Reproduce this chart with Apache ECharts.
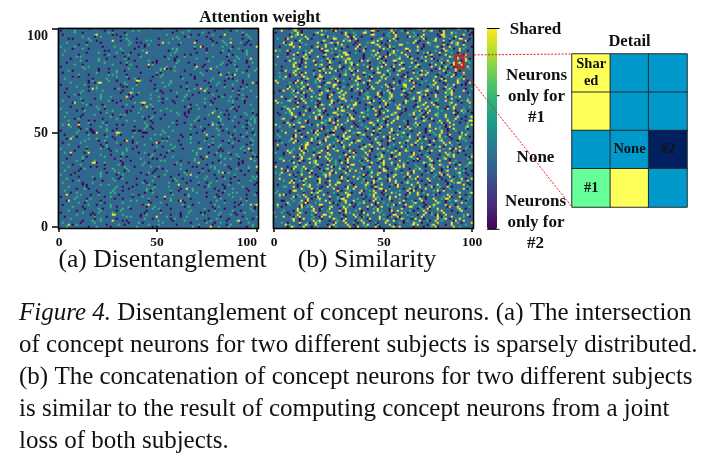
<!DOCTYPE html>
<html><head><meta charset="utf-8">
<style>html,body{margin:0;padding:0;background:#fff}#c{width:722px;height:466px}</style>
<script src="https://cdn.jsdelivr.net/npm/echarts@6/dist/echarts.min.js"></script></head>
<body><div id="c"></div>
<script>
// Cell rows are a hand-typed approximation of the reference, top row first.
// Each token is <cells of None to skip><kind>: o=#2, g=#1, y=Shared.
const tickLabels=['0','50','100'];
const xTickIdxA=[0,49,99], yTickIdxA=[0,47,99], xTickIdxB=[0,55,99];
const leftRows=[
"3g11o2g17o9g4o21g6o1o8g13o",
"1o6g14o3o9g2g18o5g12o7o2g10g",
"8g3o12g1g5o23o4g9g2o16g7o",
"2o15g8o1o4g19g11o3o6g14o",
"12g5o2g9o27g3o1g8o6o13g",
"5o1o7g18g4o10o6g2g15o9g5o",
"16g2o11o3g8g1g22o7o4g12o",
"4g9o6o14g2o1o13g5g17o3g",
"10o3g20g7o1g4o9o16g6g8o",
"1g6g13o5g11o2o24g3o9g4o",
"7o4g2o15g6o18g1g8o5o11g",
"3g19o1o6g9g12o3g14o7g2o",
"14o5g8g2o3o21g10o4g6o12g",
"2g7o12o1g9g4o15g6o2o18g",
"9g1g16o4o7g11o5o3g13g6o",
"6o13g3o8g1o19g2o10g4o15g",
"11g2o5g17o6g3o8o1g14g9o",
"4o18g7o2g12o1o9g5o16g3o",
"8g3o14g6o1g10g20o4o7g2o",
"1o10g2g23o5o8g3g13o6g9o",
"13g6o4o9g15g2o1o11g7o12g",
"5g1o12o8g3o17g6g4o10o14g",
"2o16g5o3g11o7g1o19g8o4g",
"10g4o9g1g6o14o2g13o5g11o",
"7o2o18g4g12o3g9o6o15g1g",
"3g13o6g10o2g1o21g5o8g7o",
"15o1g7g3o11g4o9g16o2g6o",
"6g8o2o14g5o12g3g7o10o4g",
"1o11g17o2g4g8o6g13o9g3o",
"9g5o3g12o1o18g7o2g11o6g",
"4o14g8o1g6g10o15o3g5g12o",
"12g2o6g9o16g1o4o8g13o7g",
"3o7g19o5g2g11o6g10o4o14g",
"8g1o10g13o3o6g17g2o9g5o",
"5o15g4g7o2o12g8o3g16o1g",
"11g6o2g14o9g5o1g10o7g4o",
"2g9o12g1o3o18g6o4g13o8g",
"7o4g16o8g2g10o5o14g3o9g",
"14g1o5o11g7o3g19o2g6g10o",
"6o12g3g8o4o9g15o1g7o13g",
"1g10o7g2o17g5o6g11o3g8o",
"9o3g13g6o1o14g4g8o12g5o",
"4g16o2g9o5g7o10g3o1o15g",
"12o5g8o3g1g19o6g2o11g7o",
"3g7o14g4o10g2o1g16o5g9o",
"8o1g11o6g13o2g4o17g3o7g",
"5g9o2o15g3g7o12o8g1o10g",
"10o4g6g1o18g3o9g5o13g2o",
"2g13o7g4o2o11g14o6g8o3g",
"6g3o10g16o5g1o8g12o2g9o",
"11o2g1o7g4o13g3o18g6o5g",
"1o8g5o0o6g2o9o0o1o0o10g4g14o7g",
"9g4o2o0o12g6g3o0o0o8g15o3g11o",
"3o11g7o5g1o16g2g9o4o13g6o",
"7g1o14g2o9g4o12g6o3g10o8g",
"4o10g3g8o17g5o1o11g7o2g",
"13g6o2g9o3o14g1g5o12g8o",
"2o8g12o4g7o1g10o15g3o6g",
"5g15o2g6o11g3o8g4o13g1o",
"10o3g7o1g14o9g2o5g16o4g",
"1g12o6g3o8g2o19g4o7g10o",
"8o5g11o2g4g13o6g1o9g12o",
"3g9o1o16g7o2g10o14g5o3g",
"6o14g4o5g12o1g3o17g8o2g",
"12g1o8g7o2o11g6o3g13o9g",
"4o7g15o2g9g5o1o18g3o10g",
"9g2o5g12o4o14g1g7o6g11o",
"2g16o3g8o10g1o13g5o4g6o",
"7o3g11o6g1o9g15o2g12o8g",
"5g10o2o13g4o7g3g16o1o6g",
"11o1g9o3g6g14o2o8g10o5g",
"3g6o17g4o1g12o5g9o7g2o",
"8o12g2o5g10o3g1o15g6o9g",
"1g4o14g7o2g11o8g6o3g13o",
"10o6g3g9o16g1o5o12g4g7o",
"4g13o8g2o1g6o18g3o10g5o",
"7o2g11o5g14o3g9o1g6o12g",
"2g9o4g16o7g1o10g8o5g3o",
"12o1o6g3g13o5g2o11g9o4g",
"5g8o14g2o4o10g6g17o1g7o",
"9o3g1o12g6o8g2g13o5g10o",
"3g15o7g4o11g1o9g3o6g12o",
"6o2g10o5g1g14o3g8o12g4o",
"11g4o3g9o6g2o16g5o1g13o",
"1o7g13o2g10o4g6o15g8o3g",
"8g5o1g11o3o12g7o2g9o14g",
"4o9g6o14g2g5o10g3o1o16g",
"10g2o7g1o8g13o4g11o6g5o",
"2o12g3o6g15o1g9o7g4o10g",
"7g4o13g2o5g8o3g14o1g11o",
"13o6g1o9g3o10g2g5o16g4o",
"5g3o11g7o1g12o6o14g8o2g",
"1o10g4o2g6g15o7g9o3g5o",
"9g6o1o13g8o2g11o4o10g7g",
"3o14g5o9g1g4o12g6o2g16o",
"6g11o2g7o13g3o8o1g10g5o",
"12o4g3g10o1o15g6o5g9o2g",
"2g8o6g16o4g1o9g13o7g3o",
"7o1g14o5g2o11g4g8o10g6o",
"4g10o3g6o12g7o1o17g2o9g"];
const leftTail=[
"4o9g3o12g","2g7o5g1o8g","6o3g11o2g9o","1g5o14g3o6g","9o2g6o1g13o","3g8o4g10o2g","5o12g1o7g","7g2o9o4g6o","2o4g13g3o8g","11g1o5o6g2o",
"3g9o2g7o4g","6o1g12o3g5o","8g4o2g10o1g","1o6g9o5g3o","4g13o2o7g6g","10o3g1g8o5g","2g5o11o4g9o","7o2g6g3o12g","3g14o1o5g7o","5o8g2g10o4g",
"9g1o6o4g11o","4o3g12g2o7g","6g10o1g5o8g","2o7g4o13g3o","8g5o2g9o1g","1o12g3o6g4o","5g2o10g7o3g","11o4g1o8g6g","3g6o9g2o5o","7o2g13o1g4g",
"4g8o3g6o11g","2o5g10o1o7g","9g3o6g4o8g","6o1g11g5o2g","3g7o4g12o1g","10o2g8o3g6o","1g5o9g4o7g","5o13g2g6o3g","8g4o1o10g5o","2o9g3o7g4g",
"6g1o12o2g8o","4o7g5g9o1g","11g3o6o2g10o","1o8g4o13g3o","7g2o5g9o4g","3o10g1g6o8g","5g6o3g11o2o","9o4g2g7o5g","2g11o1g5o9g","6o3g8g4o10o",
"4g9o2g6o7g","1o5g12o3g8o","8g2o7g1o11g","3o6g10o4g5o","5g1o13g2o6g","10o7g3g9o1g","2g4o6g11o5o","7o1g8o3g10g","3g12o2g5o4g","6o4g9g1o7o",
"9g3o5o11g2g","1o10g2o6g4o","5g7o3g13o1g","4o2g8g5o9o","8g6o1o12g3o","2g3o10g6o7g","11o5g2g4o9g","3g8o1o7g5o","6o12g3g2o10g","1g6o9g4o3g",
"7o2g5g11o4o","4g10o3o6g8g","2o1g13o7g5o","9g4o6g2o12g","5o8g1g3o10o","3g2o11g6o4g","10o5g4o7g1o","1g9o3g8o6g","6o2g12o5g3o","8g7o1g4o9g",
"4o3g6o10g2o","2g11o5o7g4g","7o4g1g9o6o","5g8o3g2o13g","1o6g12o4g7o","9g2o5g3o11g","3o10g7o1g6g","6g4o2o9g8o","11o1g5g6o3g","2g7o9o4g5o",
"4o12g1o8g6g","8g3o5g10o2o","1o7g6o4g12g","5g2o13g3o7o","10o6g1g9o4g","3g5o8g2o11g","7o4g12o1g6o","2g9o3g7o5g","6o1g10g4o8o","4g8o2g5o13g"];
const rightLead=[
"","4y","1o7g","","9y","2g","11o1y","5y","","3o6y","13g","1y","7o","","2y4g","10y","6o","","1g8y","4o",
"12y","","3g","8o2y","","5g","1y9o","2y","14g","","7y","3o1y","","10g","4y","6o2g","1y","","12o","5g",
"","8y","2o3g","","11y","4g","9o","","1y6y","3g","15o","","6y","2g7o","","9y","1o","4g5y","","13g",
"2o","7y1g","","5o","10y","3g","","1o8y","12g","","4y","6o","1g2y","","11o","3y7g","","8y","2o","5g",
"14y","","1g6o","3y","","9g","4o","7y","","2g1o","12y","5g","","8o3y","1g","","10y","4g2o","6y",""];
const rightRows=[
"0y7o1y0y4g12y2o0y3g1y9o2y5g0y1y6o3g0y2y8o1g4y0y3o2g11y1o0y5g2y7o1y3g",
"5g0y2o9y1g3o0y14g2y0y1o6y4g1o8y2g0y3o1y10g0o2y5y1g0o7y3g2y1o4g0y9o",
"2y1o6g0y11o1y3g4y0y2o8g1y0o5y2g13o0y3y1g7o2y0y4g1o6y2o0y3g12y1o",
"8o2g0y1y5o3y0g10y1o2g7y0y4o1g3y9g0o2y6o1y0y3g5y2o11g0y1o4y2g",
"1g4y9o0y2g6y1o0y3o13g2y5o0y1g3y8o1y0g4y2o7g0y1y3o5g2y10o0y",
"3o0y6g2y1o10y0y4g2o1y7o3g0y5y1o9g2y0o4y6g1o2y0y3o8g1y4o2y",
"11y0g2o5y1g0y3o7g1y4o0y2g9y1o6g0y3y2o1g5y0o8g2y3o0y4g1y7o",
"0o2y4g7y1o3g0y2y8o5g1y0y3o12g2y1o4y0g6o3y1g0y2o9y4g1o",
"6g1y0y3o2g9y4o0g1y5o2y7g0y3o1g4y0y10o2g6y1o3g0y2y5o1g",
"2y5o1g0y3y8g1o4y0o2g6y3o0y1g11y2o5g0y1o3y7g2o0y4y1g6o",
"9o0y4g1y2o6y3g0o8y1g2o5y0y4g1o10y3g0o2y1g6y4o0y2g3y",
"1g3y0o7g2y4o1y0y5g9o1y3g0y2o6y1g4o0y3y8g2o1y0g5y3o",
"4y2o0g1y6o3g5y0y1o2g10y4o1g0y3y7o2g1y0o4y5g2o9y0g",
"0g6o2y1o3y8g0y4o1g2y0y7o3g1y5o0y2g4y9o1g0y3o2y6g1o",
"7y1g0o3y2o5g0y1y10o4g2y1o0y6g3y0o5g1y2o8y0g3o1y4g",
"3o1y0g9y2o4g1y0y6o2g3y1o7g0y5y2o1g4y0o3g11y1o2g0y",
"1y4g0o5y3g2o0y7y1g4o0y2y6g1o3y0y9g2o1y5o0g3y4g1o",
"10g0y2o1y4o6y0g3o2y1g0y8o4g1y5o2y0g3y1o7g4y0o2g1y",
"2o7y1g0y3o4g5y0o1y2g9o0y3g2y1o6y0g4o2y5g1o0y3y8o",
"5y0g1o2y6g3o0y4y1o2g8y0o3g1y4o0y7g2y1o5y3g0o1y2g",
"0g9o1y2g0y4o3y1g7o0y2y5g1o3y0y4g10o1y2g0o3y6g1o",
"4o1y3g0y8o2y1g5y0o3g2y1o0y9g4y2o1g0y6o3y1g2o5y",
"6y2g0o1y3g4o0y1y7g2o5y0g3o1y0y4g8o2y1g0o3y5g2o",
"1o0y5g2y9o1g0y3y4o2g6y1o0g3y2o7g0y1y5o4g2y0o3g",
"3g2y1o6y0g4o1y0y5g2o8y3g1o0y4y2g6o1y0o3g9y2o1g",
"8o1g0y4y2o3g1y6o0g2y0y5o4g1y3o7g0y2y1o5g3y0o6g",
"0y3o4g1y7o0y2g5y1o3g0y4y9o2g1y0o6g3y2o1g0y5y4o",
"5g1o0y2y6g3o1y0y4o8g2y1o3g0y7y2o1g4y0o2g6y3o",
"2y6o1g3y0y5o2g1y4o0g7y1o3g2y0y6o4g1y5o0g2y3o",
"7o0y3g2y1o4g0y6y2o1g3y8o0y4g2y1o5g0y3y6o1g2y",
"1g4y2o0y7g1o3y5g0o2y4o1g0y9y3o2g1y0o6g4y2o1g",
"4y0o5g1y3o2g0y6y4o1g2y0o7g3y1o5y0g2o4g1y0y3o",
"0o8g2y1o0y4g3y5o1g0y2y6o3g4y1o0g2y7o1g3y0y5o",
"3g1o6y0g2o1y4g0y7o2g5y1o3g0y4y2o6g1y0o3y5g",
"6y3g0o2y1g5o0y4y1g3o7y0g2o1y4g0y6o3g2y1o5y",
"1o2y7g0y3o1g4y0y6o2g1y5o0g3y8o1g0y2y4o3g6y",
"5g0y4o1y3g2o6y0g1o3y2g9o0y4y1g2o5y0g3o1y7g",
"2y1g6o0y3y4g1o5y0o2g7y1o3g0y4o2y1g6o0y5g3y",
"9o1y0g2y5o3g1y0y4o2g6y0o3g1y7o2g0y4y1o5g2y",
"0g5y2o1g3y0o6g4y1o0y2g8o3y1g0o5y2g4o1y0g3y",
"4o2y0g1y7o3g2y5o0y1g4y6o0g2y3o1g5y0y2o7g",
"7y1o3g0y2o5g1y0y4o6g3y1o0g2y8o4g1y0o3y5g",
"1g0y3o6y2g1o4y0y5g3o2y0g7o1y4g0y2o5y3g1o",
"3o5y0g2o1y6g0y3o4y1g2o0y8g3y1o5y0g2o4g1y",
"6g2y1o0y4g3o5y0o2g1y6o3g0y4y7o1g2y0o5g3y",
"0y4o2g7y1o0g3y2o5g1y0y6o4g2y1o3g0y8y2o1g",
"2g3y0o8g1y2o0y4y5g1o6y3o0g2y4g1o7y0g3o2y",
"5o1y4g0y3o6y0g2o1y5g3o7y0y4g1o2y6g0o3y1g",
"1y7g0o2y3g4o0y1y6o2g5y1o0g3y9o2g1y0o4y6g",
"4g1o3y0y6g2o5y1g0o4y2o3g7y0o1g5y2o0y3g6y",
"8y0o3g1y2o0o6g4y2o1g0y5y3o2g1y0g6o4y1g3o",
"2o1g6y0o0o5g0o1y0o3g2y4o1g0y7o3y1g0o5y2g6o",
"6g3y2o0y1g4o0o0o5y3g1y0y6o2g4y1o3g0y7y2o1g",
"0y2o5g1y3o2g0y4y6o1g0y3y2o7g1y4o0g3y5o2g1y",
"3g6o0y2y1o4g5y0g3o2y1g0y8o4g2y1o0y5g3y6o",
"9y1g0o3y4g2o1y0y6g3o2y5o0g1y7g3o0y2y4o1g",
"1o4g2y0o6y3g1o0y5y2g4o1y0y7g2o3y1o5g0y4y",
"5g0y1o3y6g2o0y4y1g7o2y0g3o5y1g0o4y2g3o6y",
"2y3o7g1y0y4o1g3y5o0g2y6o1g0y4y3o2g8y1o0g",
"0o1y5g4y2o0g3y7o1g0y2y4o3g5y1o0g6y2o3g1y",
"7g2y0o1y3g5o0y2y4g1o6y0g3o2y1g0y5o4g7y1o",
"4y1o0g6y2o3g0y5y1o4g2y0o7g3y1o2y0g5o3g1y",
"1g3o2y0g5y4o1g0y3y7o2g1y0o4y6g1o3y0g2y5o",
"6o0y1g4y2o3g0y7y1o2g5y0o3g1y4o2g0y6y3o1g",
"3y5g1o0y2y6g3o0y1y4g5o2y0g3o1y6g0y2o4y7g",
"0g7o1y2g0y3o4y1g6o0y2g5y1o3g0y4y2o8g1y0o",
"5y2g0o3y1o4g0y6y2g1o3y5g0o2y4g1o0y7y3g2o",
"2o4y1g0y5o3g2y1o0y6g4y2o1g0y3y5g1o7y0g3o",
"8g0y1o2y3g5o1y0y4g2o6y3g1o0y2y5g4o1y0g3y",
"1y5o2g0y3y4g1o6y0o2g3y7o1g0y4y2o5g0y1y6g",
"4o0y3g1y6o2g0y5y1o3g4y0o2g6y1o3y0g5o2g1y",
"0y6g2o1y4g0o3y5g1o0y2y7g3o1y0y4g2o5y3g1o",
"7o1g3y0o5g2y1o0y4y6g3o1y2g0y5o4g2y1o0y6g",
"3g4y1o0g2y6o3g0y1y5o2g7y0o1g3y4o2g0y5y6o",
"6y0g2o3y1g4o0y5y2g1o3y6g0o2y4g1o0y3y7g2o",
"2o1y5g0y3o6y1g0o4y2g5o1y0g3y7o2g1y0o4y5g",
"5g3y0o2g1y6o0y4y3g1o2y7g0o3y1g4o0y2y5g6o",
"1y4o0g6y2o1g3y0y5o4g2y1o0y3g6y2o1g0y4y5o",
"9o2y0g1y3g4o0y2y6g1o5y0g3o2y4g1o0y6y3g2o",
"0g3y1o4g0y5o2y1g6o0y3y4g2o1y0g5o3y7g1o0y",
"4y2g0o6y1o3g0y2y5g4o1y0y3g6o2y1g0o4y5g2o",
"2g5o1y0y3g4o2y0g7y1o3g5y0o2g1y4o0y6g3y1o",
"6o3y1g0y4o2g5y0g1o3y6g0y2o4y1g5o0y3y2g7o",
"1y0o5g2y3o0g4y6o1g2y0y5o3g1y4o0g6y2o1g3y",
"3g6y0o1g2y4o0y5y3g1o2y7g0o3y1g4o0y2y5g6o",
"7y1o2g0y4o3g1y0y6g2o5y1g0o3y4g2o6y0g1o3y",
"0o4g3y1o0y5g2y6o1g0y3y4g2o1y7g0o5y3g1o2y",
"5g2y0o3g6y1o0g4y2o3g1y5o0y2g7y1o4g0y3o6y",
"2y3o1g5y0o2g4y0y7o1g3y2o0g6y1o5g2y0o4y3g",
"8o0y2g1y4o3g0y5y1g2o6y3g0o1y4g5o2y0y3g1o",
"1g5y2o0g3y4o1g0y6y3o2g1y5o0g4y7o1g2y0o3y",
"4o1y6g0y2o3g5y1o0y4g2o7y1g3o0y2y5g1o4y6g",
"0y3g2o5y0g1o4y6g0y3o2y1g5o0y4y2g6o3y1g0o",
"6g1o3y0y2g5o4y1g0o3y7g2o1y0y5g4o2y3g1o0y",
"3y4o0g1y6g2o0y3y5g1o4y2o0g7y3o1g2y0o5g4y",
"9g0y2o1y3g4o5y0g2o1y6g3o0y4y1g5o2y0g3o1y",
"2o6y1g0y4o3g2y5o0g1y3o7g0y2y4o1g5y3g0o2y",
"5y3g0o2y1g6o0y4y3g1o2y5g0o3y6g1o4y0g2o7y",
"1g4o2y0g3y5o1g0y6y2o4g1y3o0g5y2o7g0y1y4o",
"7o1y0g4y3o2g5y0o1g6y2o0y3g4y1o5g0y2y6o"];
const rightTail=[
"2y6o0g3y1o8g","0y4g1y7o2y0g5o","3o1y9g0y2o4y","6g0y1o3y5g2o","1y3o7g0y4y2g","4g2y0o6y1g3o","8y1o2g0y5o3y","0g5o2y1g7y3o","3y1g0y6o4g1y","5o2y0g3y8g1o",
"1g7y2o0y4g5o","2o0y5g3y1o6y","9g1y0o2y4g3o","0y3o8g1y2y5g","4y2g1o0y6o3g","6o1y3g0y2o7y","1y0g4o5y2g3o","7g3y1o0y2g8y","2y5o1g4y0o3g","0o6y2g1y3o5g",
"3g4y0o1y8g2o","5y1o7g0y2y4o","1g2o3y6g0y5o","8o0y1g4y2o3g","2y4g0o7y1g5o","0g1y6o2y3g4y","4o3y1g0y9g1o","6y0g2o1y5o3g","1o4g3y0y2o7y","3y2g1o8y0g4o",
"0y7o2g1y3o5g","5g1y0o4y6g2o","2o3y1g0y7o4g","1y8g2o0y3y5g","4y0o3g1y6o2g","7g2y4o0y1g3o","0g3y5o1g2y6o","2y1o6g0y4o3y","9o1g3y0y2g5o","3g0y4o2y7g1o",
"1y5g3o0y2y4g","6o2y1g0o3y8g","0y4g7y1o2g3o","2g1o5y0g3y4o","5y3o1g0y6g2y","1o0y7g3y2o4g","3y2g5o1y0y6g","8g1y0o2y4o3g","0o3y6g1y2o5y","4g2o1y7g0y3o",
"2y5g0o3y1g6o","6o1y0g4y2o3g","1g3y8o0y2g4y","3o0y5g1y6o2y","7y2g1o4y0g3o","0g4o3y1g5y2o","5o1y2g0y7o3g","2y3g6o0y1y4g","4g0y1o5y2g3o","1o7y3g0o2y5g",
"8g2y1o0y4g3y","3y5o0g2y1o6g","0y2g4o7y1g3o","6o3y0g1y5o2g","2g1y7o0y3g4y","4y3o2g0y1o8g","1o5g0y3y4o2g","7y1g2o4y0g5o","0g6o1y3g2y4o","3o2y5g1y0o7g",
"5g0y3o6y1g2o","2y4o1g0y7g3o","1o3y8g0y2o4y","6g2y0o1y5g3o","4y1o2g7y0g3o","0o5g3y1o2y6g","3y7o1g0y4g2y","8o2g1y0y3o5g","1g3y4o0g6y2o","5y0o2g3y1o7g",
"2g6y1o0g4y3o","0y3o5g1y2y6g","7o1y4g0y3o2g","4y2g0o5y1g6o","1o8g2y0o3y4g","3g1y0y6o2g5y","6y4o1g2y0g3o","0g2o7y1g3o4y","5o3y0g4y2g1o","2y1g6o0y3y5g",
"9g0y2o4y1g3o","1y4o3g0y7o2y","4g3y1o0g5y6o","0o2y8g1y3o4g","7y1o0g3y5g2o","3o6y2g0y1o4y","2g5o0y3y7g1o","6y2g1o4y0g3o","1g0y5o2y6g3y","4o3g1y0o7y2g"];
const leftShared=[[19,3],[27,6],[52,7],[44,12],[68,7],[71,9],[86,7],[99,9],[83,3],[96,15],[45,18],[53,20],[76,20],[69,19],[88,23],[20,27],[21,27],[39,26],[40,26],[81,23],[97,27],[17,30],[71,30],[73,31],[36,32],[34,34],[42,37],[43,37],[8,37],[44,39],[77,42],[80,44],[5,48],[77,48],[10,48],[29,52],[30,52],[19,52],[6,55],[49,57],[34,56],[74,53],[95,60],[15,62],[6,62],[71,60],[74,64],[17,67],[18,67],[70,67],[96,65],[99,69],[82,72],[66,73],[60,78],[64,80],[4,83],[5,86],[53,84],[61,86],[45,88],[96,88],[27,93],[28,93],[27,96],[49,94],[5,98],[90,96],[76,99],[99,88]];
const detailRows=[['y','b','b'],['y','b','b'],['b','b','n'],['g','y','b']];
const detailCol=92, detailRow=14;
const detailLabels={'0,3':'Shar\ned','1,1':'None','2,1':'#2','0,0':'#1'};
const captionLines=['{i|Figure 4.} Disentanglement of concept neurons. (a) The intersection','of concept neurons for two different subjects is sparsely distributed.','(b) The concatenation of concept neurons for two different subjects','is similar to the result of computing concept neurons from a joint','loss of both subjects.'];
const viridis=['#440154','#482878','#3e4989','#31688e','#26828e','#1f9e89','#35b779','#6ece58','#b5de2b','#fde725'];
const code={o:0,g:2,y:3};
const detailToCell={y:3,b:1,n:0,g:2};
function matrix(parts,shared){const m=[];for(let r=0;r<100;r++){m.push(new Array(100).fill(1));let c=0;const s=parts.map(p=>p[r]||'').join('');
  for(const t of s.matchAll(/(\d+)([ogy])/g)){c+=+t[1];if(c<100)m[r][c]=code[t[2]];c++;}}
 (shared||[]).forEach(([c,r])=>m[r][c]=3);return m;}
function toCells(m){const d=[];m.forEach((row,r)=>row.forEach((v,c)=>d.push([c,99-r,v])));return d;}
const leftM=matrix([leftRows,leftTail],leftShared),rightM=matrix([rightLead,rightRows,rightTail]);
detailRows.forEach((row,r)=>row.forEach((k,c)=>rightM[detailRow+r][detailCol+c]=detailToCell[k]));
const idx=Array.from({length:100},(_,i)=>String(i));
const serif='"Liberation Serif"';
function ax(idxs,o){const lab=i=>idxs.indexOf(i)>=0;return {type:'category',data:idx,gridIndex:o.g,position:o.pos,
 axisLine:{show:false},splitLine:{show:false},
 axisTick:{show:true,alignWithLabel:true,length:o.len,interval:lab,lineStyle:{color:'#000',width:1.5}},
 axisLabel:Object.assign({show:true,interval:lab,margin:o.margin,color:'#111',fontFamily:serif,fontWeight:'bold',fontSize:o.fs,formatter:(v,i)=>tickLabels[idxs.indexOf(+v)]||''},o.lab||{})};}
const hide=g=>({type:'category',data:idx,gridIndex:g,show:false});
const detailX=['0','1','2'],detailY=['0','1','2','3'];
const dcode={y:0,b:1,n:2,g:3};
const detailData=[];detailRows.forEach((row,r)=>row.forEach((k,c)=>detailData.push([c,3-r,dcode[k],detailLabels[c+','+(3-r)]||''])));
const txt=(t,x,y,fs,extra)=>({type:'text',z:50,x,y,style:Object.assign({text:t,fontFamily:serif,fontSize:fs,fill:'#111',textAlign:'center',textVerticalAlign:'middle'},extra||{})});
const bold=(t,x,y,fs)=>txt(t,x,y,fs,{fontWeight:'bold'});
const G1={left:58,top:28,width:200,height:200},G2={left:273,top:28,width:200,height:200},G3={left:572,top:54,width:115,height:153};
const frame=g=>({type:'rect',z:40,shape:{x:g.left+.5,y:g.top+.5,width:g.width,height:g.height},style:{fill:'none',stroke:'#000',lineWidth:1.5}});
const line=(x1,y1,x2,y2,st)=>({type:'line',z:45,shape:{x1,y1,x2,y2},style:Object.assign({stroke:'#000',lineWidth:1},st)});
const red={stroke:'#f01818',lineWidth:1,lineDash:[2,1.5]};
const graphic=[frame(G1),frame(G2),
 line(487,28.5,499.5,28.5),line(487,229.3,499.5,229.3),line(497,95.7,499.5,95.7),
 {type:'rect',z:46,shape:{x:456.2,y:55.8,width:7.4,height:11.6},style:{fill:'none',stroke:'#e81010',lineWidth:2}},
 line(463.6,55,572,54,red),line(461,67.4,572,207,red),
 bold('Attention weight',260,18,17),bold('Detail',629.5,41.5,16.5),
 bold('Shared',535.5,29.5,17),
 bold('Neurons',536.5,76,17),bold('only for',536.5,97,17),bold('#1',536.5,117.5,17),
 bold('None',535.5,158,17),
 bold('Neurons',535.5,202,17),bold('only for',536,223,17),bold('#2',535.5,243.5,17),
 txt('(a) Disentanglement',162.5,260,25.6),txt('(b) Similarity',367,260,25.6),
 ...captionLines.map((t,i)=>({type:'text',z:50,x:19,y:313.5+i*32,style:{text:t,fontFamily:serif,fontSize:25,fill:'#111',textAlign:'left',textVerticalAlign:'middle',rich:{i:{fontFamily:serif,fontStyle:'italic',fontSize:25,fill:'#111'}}}}))];
const chart=echarts.init(document.getElementById('c'),null,{renderer:'canvas'});
chart.setOption({animation:false,backgroundColor:'#fff',
 grid:[G1,G2,G3],
 xAxis:[ax(xTickIdxA,{g:0,pos:'bottom',len:4,margin:8,fs:13.5,lab:{alignMaxLabel:'right'}}),ax(xTickIdxB,{g:1,pos:'bottom',len:4,margin:8,fs:13.5}),Object.assign({},hide(2),{data:detailX})],
 yAxis:[ax(yTickIdxA,{g:0,pos:'left',len:6,margin:10,fs:14,lab:{verticalAlignMaxLabel:'top'}}),hide(1),Object.assign({},hide(2),{data:detailY})],
 visualMap:[
  {type:'continuous',show:true,min:0,max:3,seriesIndex:[0,1],dimension:2,left:487,top:28.5,padding:0,itemWidth:10,itemHeight:201,text:null,calculable:false,realtime:false,hoverLink:false,inRange:{color:viridis},textStyle:{fontSize:0}},
  {type:'piecewise',show:false,seriesIndex:2,dimension:2,pieces:[{value:0,color:'#ffff5a'},{value:1,color:'#0099cc'},{value:2,color:'#002060'},{value:3,color:'#66ff99'}]}],
 series:[
  {type:'heatmap',xAxisIndex:0,yAxisIndex:0,data:toCells(leftM),progressive:0,silent:true,emphasis:{disabled:true}},
  {type:'heatmap',xAxisIndex:1,yAxisIndex:1,data:toCells(rightM),progressive:0,silent:true,emphasis:{disabled:true}},
  {type:'heatmap',xAxisIndex:2,yAxisIndex:2,data:detailData,silent:true,emphasis:{disabled:true},encode:{x:0,y:1},
   itemStyle:{borderColor:'#2a2a2a',borderWidth:1},
   label:{show:true,formatter:p=>p.data[3],fontFamily:serif,fontWeight:'bold',fontSize:14.5,color:'#111',lineHeight:17}}],
 graphic:{elements:graphic}});
</script></body></html>
